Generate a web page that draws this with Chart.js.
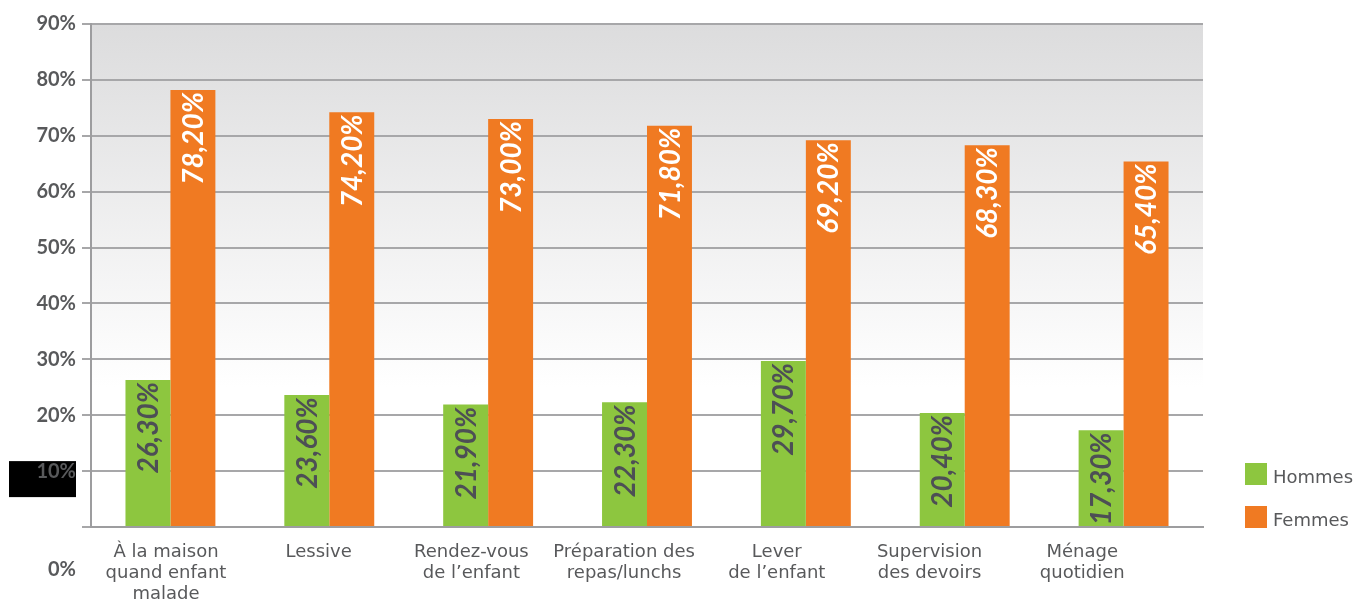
<html lang="fr">
<head>
	<meta charset="utf-8">
	<title>Hommes / Femmes</title>
	<script src="https://cdn.jsdelivr.net/npm/chart.js@4/dist/chart.umd.min.js"></script>
	<style>
		body { margin: 0; background: #fff; }
		.div-chart { position: relative; width: 1354px; height: 601px; }
	</style>
</head>
<body>
	<div class="div-chart">
		<canvas id="graph"></canvas>
	</div>
	<script>
		// categories (libelles sur 2-3 lignes)
		const categories = [
			['À la maison', 'quand enfant', 'malade'],
			['Lessive'],
			['Rendez-vous', 'de l\u2019enfant'],
			['Préparation des', 'repas/lunchs'],
			['Lever', 'de l\u2019enfant'],
			['Supervision', 'des devoirs'],
			['Ménage', 'quotidien']
		];
		const hommes = [26.3, 23.6, 21.9, 22.3, 29.7, 20.4, 17.3];
		const femmes = [78.2, 74.2, 73.0, 71.8, 69.2, 68.3, 65.4];
		const yTicks = [0, 10, 20, 30, 40, 50, 60, 70, 80, 90];

		const GRIS = '#58595b';
		const VERT = '#8dc63f';
		const ORANGE = '#f07a22';

		function fmt(v) {
			return v.toFixed(2).replace('.', ',') + '%';
		}

		// fond degrade + le bloc noir derriere 10%
		const fondPlugin = {
			id: 'fond',
			beforeDraw(chart) {
				const { ctx, chartArea: a, scales } = chart;
				const g = ctx.createLinearGradient(0, a.top, 0, scales.y.getPixelForValue(25));
				g.addColorStop(0, '#dcdcdd');
				g.addColorStop(1, '#ffffff');
				ctx.save();
				ctx.fillStyle = g;
				ctx.fillRect(a.left, a.top, a.right - a.left, a.bottom - a.top);
				const y10 = scales.y.getPixelForValue(10);
				ctx.fillStyle = '#000';
				ctx.fillRect(9, y10 - 10, 67, 36);
				ctx.restore();
			},
			afterDraw(chart) {
				const { ctx, scales } = chart;
				ctx.save();
				ctx.font = 'bold 20px Lato';
				ctx.fillStyle = GRIS;
				ctx.textAlign = 'right';
				ctx.textBaseline = 'middle';
				ctx.fillText('0%', 76, scales.y.getPixelForValue(0) + 43);
				ctx.restore();
			}
		};

		// etiquettes verticales dans les barres
		const etiquettesPlugin = {
			id: 'etiquettes',
			afterDatasetsDraw(chart) {
				const ctx = chart.ctx;
				ctx.save();
				ctx.font = 'italic bold 28px Lato';
				ctx.textAlign = 'right';
				ctx.textBaseline = 'middle';
				chart.data.datasets.forEach((ds, i) => {
					chart.getDatasetMeta(i).data.forEach((bar, j) => {
						ctx.save();
						ctx.translate(bar.x + 1, bar.y + 2);
						ctx.rotate(-Math.PI / 2);
						ctx.fillStyle = i === 0 ? '#4d4f55' : '#ffffff';
						ctx.fillText(fmt(ds.data[j]), 0, 0);
						ctx.restore();
					});
				});
				ctx.restore();
			}
		};

		// legende a droite, en bas
		const legendePlugin = {
			id: 'legende',
			afterDraw(chart) {
				const ctx = chart.ctx;
				const a = chart.chartArea;
				ctx.save();
				ctx.font = '18px "DejaVu Sans"';
				ctx.textBaseline = 'middle';
				chart.data.datasets.forEach((ds, i) => {
					const y = a.bottom - 64 + i * 43;
					ctx.fillStyle = ds.backgroundColor;
					ctx.fillRect(a.right + 42, y, 22, 22);
					ctx.fillStyle = GRIS;
					ctx.fillText(ds.label, a.right + 70, y + 15);
				});
				ctx.restore();
			}
		};

		new Chart(document.getElementById('graph'), {
			type: 'bar',
			data: {
				labels: categories,
				datasets: [
					{ label: 'Hommes', data: hommes, backgroundColor: VERT },
					{ label: 'Femmes', data: femmes, backgroundColor: ORANGE }
				]
			},
			options: {
				responsive: true,
				maintainAspectRatio: false,
				animation: false,
				categoryPercentage: 0.566,
				barPercentage: 1,
				layout: { padding: { top: 24, right: 151, left: 0, bottom: 0 } },
				plugins: {
					legend: { display: false },
					tooltip: { enabled: false }
				},
				scales: {
					x: {
						weight: 0,
						grid: { display: false },
						border: { display: true, color: '#9d9d9f', width: 2 },
						ticks: { display: false },
						afterFit(scale) { scale.height = 0; }
					},
					// axe des libelles : dans l'original ils sont un peu plus serres que les barres
					xLib: {
						type: 'linear',
						position: 'bottom',
						weight: 1,
						offset: false,
						min: -0.491,
						max: 6.791,
						afterBuildTicks(scale) {
							scale.ticks = categories.map((c, i) => ({ value: i }));
						},
						grid: { display: false, offset: false },
						border: { display: false },
						ticks: {
							color: GRIS,
							font: { family: 'DejaVu Sans', size: 18, lineHeight: 1.17 },
							padding: 7,
							maxRotation: 0,
							autoSkip: false,
							callback: v => categories[v]
						},
						afterFit(scale) {
							scale.height = 74;
							scale.paddingLeft = 0;
							scale.paddingRight = 0;
						}
					},
					y: {
						min: 0,
						max: 90,
						afterBuildTicks(scale) {
							scale.ticks = yTicks.map(v => ({ value: v }));
						},
						grid: { color: '#a7a7a9', lineWidth: 2, tickLength: 9 },
						border: { display: true, color: '#9d9d9f', width: 2 },
						ticks: {
							color: GRIS,
							font: { family: 'Lato', size: 20, weight: 'bold' },
							padding: 6,
							callback: v => v === 0 ? '' : v + '%'
						},
						afterFit(scale) { scale.width = 91; }
					}
				}
			},
			plugins: [fondPlugin, etiquettesPlugin, legendePlugin]
		});
	</script>
</body>
</html>
